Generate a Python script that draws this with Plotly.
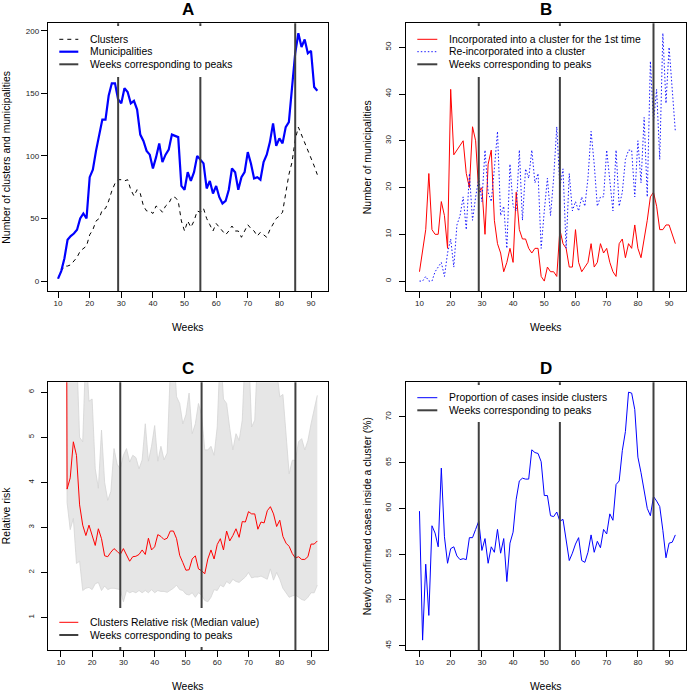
import plotly.graph_objects as go

W, H = 688, 691
FONT = "Liberation Sans, Arial, Helvetica, sans-serif"
PEAK_COLOR = "#404040"

# ---------------- data ----------------
weeks = list(range(10, 93))
peak_weeks = [29, 55, 85]
x_ticks = [10, 20, 30, 40, 50, 60, 70, 80, 90]

# Panel A
clusters = [2, 8, 12, 12, 13, 16, 19, 24, 26, 28,
            37, 41, 48, 50, 57, 58, 64, 72, 78, 81,
            81, 80, 81, 73, 68, 73, 70, 60, 56, 56,
            54, 60, 58, 55, 60, 62, 67, 67, 64, 48,
            40, 48, 43, 48, 56, 55, 58, 50, 45, 40,
            46, 43, 40, 37, 40, 44, 40, 40, 35, 40,
            45, 42, 40, 36, 39, 37, 35, 41, 45, 50,
            52, 55, 70, 85, 95, 113, 123, 117, 111, 105,
            98, 92, 85]
municipalities = [2, 8, 18, 33, 36, 38, 41, 50, 54, 50,
                  83, 89, 104, 117, 129, 129, 148, 158, 158, 145,
                  142, 154, 151, 142, 144, 137, 117, 112, 104, 101,
                  90, 99, 110, 95, 101, 105, 117, 116, 115, 76,
                  73, 87, 80, 87, 100, 97, 94, 74, 80, 70,
                  76, 67, 62, 64, 73, 90, 87, 73, 83, 87,
                  103, 94, 82, 83, 81, 95, 101, 111, 126, 108,
                  114, 110, 123, 127, 155, 182, 198, 187, 193, 182,
                  184, 155, 152]
a_yticks = [0, 50, 100, 150, 200]

# Panel B
first_time = [2, 7, 11, 23, 11, 10, 10, 17, 14, 7,
              41, 27, 28, 29, 30, 23, 20, 33, 30, 19,
              20, 10, 25, 28, 13, 8, 6, 2, 4, 7,
              4, 19, 11, 9, 9, 7, 6, 7, 7, 1,
              0, 3, 2, 2, 1, 11, 8, 7, 3, 3,
              11, 4, 2, 3, 4, 8, 3, 4, 8, 6,
              7, 4, 2, 1, 8, 9, 5, 8, 7, 12,
              7, 5, 9, 13, 18, 19, 16, 11, 11, 12,
              12, 10, 8]
reincorporated = [0, 0, 1, 0, 0, 2, 3, 4, 1, 6,
                  9, 3, 12, 14, 18, 11, 23, 13, 18, 22,
                  17, 28, 19, 17, 24, 32, 14, 16, 7, 25,
                  16, 15, 28, 13, 24, 22, 28, 21, 23, 7,
                  15, 22, 14, 22, 33, 20, 24, 7, 23, 15,
                  17, 15, 18, 16, 22, 32, 25, 16, 18, 18,
                  28, 21, 15, 28, 16, 19, 26, 28, 28, 18,
                  30, 21, 35, 18, 47, 34, 41, 26, 53, 38,
                  50, 41, 32]
b_yticks = [0, 10, 20, 30, 40, 50]

# Panel C
rr_median = [None, 30, 3.85, 4.1, 4.9, 4.6, 3.5, 3.05, 2.82, 3.05,
             2.85, 2.6, 2.97, 2.75, 2.37, 2.35, 2.45, 2.53, 2.47, 2.4,
             2.53, 2.4, 2.25, 2.35, 2.36, 2.4, 2.5, 2.4, 2.76, 2.5,
             2.57, 2.84, 2.8, 2.73, 2.76, 2.92, 2.92, 2.75, 2.38, 2.22,
             2.05, 2.06, 2.3, 2.37, 2.08, 2.04, 1.97, 2.3, 2.5, 2.3,
             2.62, 2.75, 2.5, 2.92, 2.7, 2.82, 2.97, 2.78, 3.13, 3.12,
             3.35, 3.3, 3.3, 2.96, 3.12, 3.1, 3.37, 3.46, 3.3, 3.02,
             3.16, 2.8, 2.65, 2.58, 2.42, 2.32, 2.35, 2.29, 2.29, 2.35,
             2.63, 2.63, 2.7]
rr_lower = [None, 20, 3.55, 2.95, 3.2, 2.2, 2.25, 1.6, 1.65, 1.67,
            1.62, 1.75, 1.78, 1.6, 1.7, 1.62, 1.65, 1.65, 1.63, 1.62,
            1.35, 1.6, 1.55, 1.58, 1.55, 1.6, 1.55, 1.6, 1.55, 1.62,
            1.55, 1.6, 1.58, 1.58, 1.56, 1.6, 1.65, 1.72, 1.62, 1.6,
            1.52, 1.5, 1.55, 1.45, 1.55, 1.5, 1.38, 1.35, 1.45, 1.62,
            1.6, 1.72, 1.68, 1.8, 1.75, 1.85, 1.8, 1.78, 1.85, 1.9,
            2.0, 1.88, 1.9, 1.9, 1.92, 1.88, 1.85, 2.08, 1.83, 2.0,
            1.85, 1.65, 1.55, 1.45, 1.48, 1.5, 1.45, 1.4, 1.38, 1.45,
            1.55, 1.55, 1.72]
rr_upper = [None, 40, 7.0, 7.0, 7.0, 7.0, 5.0, 4.9, 7.0, 5.8,
            5.85, 4.3, 3.87, 5.16, 4.0, 3.6, 3.8, 4.75, 4.4, 4.3,
            4.6, 4.75, 4.45, 4.6, 4.55, 4.3, 4.5, 5.3, 4.47, 4.8,
            5.26, 4.47, 4.8, 4.5, 4.65, 6.5, 7.0, 5.9, 5.75, 5.3,
            5.5, 5.98, 5.08, 5.3, 5.75, 5.5, 4.72, 4.72, 4.8, 4.6,
            5.23, 7.0, 5.85, 5.75, 5.2, 4.72, 5.08, 4.93, 5.38, 7.0,
            7.0, 5.23, 5.38, 7.0, 7.0, 7.0, 7.0, 7.0, 7.0, 6.5,
            5.9, 5.95, 5.0, 4.19, 4.49, 4.49, 4.9, 4.97, 4.72, 4.93,
            5.3, 5.6, 5.93]
c_yticks = [1, 2, 3, 4, 5, 6]

# Panel D
prop_inside = [59.7, 45.6, 53.9, 48.3, 58.1, 57.3, 55.8, 64.4, 56.9, 54.0,
               55.6, 55.8, 54.8, 54.4, 54.5, 54.4, 56.8, 56.8, 57.7, 58.6,
               55.4, 56.7, 54.0, 55.8, 55.2, 57.7, 55.1, 56.7, 52.0, 56.2,
               57.4, 61.0, 63.0, 63.3, 63.2, 63.2, 66.4, 66.1, 66.0, 65.1,
               61.4, 61.4, 59.2, 59.1, 59.6, 58.6, 58.8, 56.3, 54.3, 55.1,
               56.1, 56.8, 54.3, 54.1, 55.2, 57.1, 55.2, 56.4, 55.7, 57.7,
               57.2, 59.4, 58.7, 62.6, 63.0, 66.3, 68.4, 72.7, 72.6, 70.8,
               65.6, 63.9, 61.7, 60.0, 59.2, 61.3, 60.8, 60.2, 57.6, 54.6,
               56.2, 56.3, 57.1]
d_yticks = [45, 50, 55, 60, 65, 70]

# ---------------- helpers ----------------
def fx(p):
    return p / W


def fy(p):
    return 1 - p / H


# panel boxes in pixels: left, right, top, bottom
boxes = {
    "A": (47.7, 327.7, 23.3, 291.0),
    "B": (406.0, 685.7, 23.3, 291.0),
    "C": (47.7, 327.7, 382.3, 650.0),
    "D": (406.0, 685.7, 382.3, 650.0),
}

fig = go.Figure()

# Panel A
fig.add_trace(go.Scatter(x=weeks, y=clusters, mode="lines", xaxis="x", yaxis="y",
                         line=dict(color="black", width=1, dash="4px,4px"), showlegend=False))
fig.add_trace(go.Scatter(x=weeks, y=municipalities, mode="lines", xaxis="x", yaxis="y",
                         line=dict(color="#0000FF", width=2.2), showlegend=False))
# Panel B
fig.add_trace(go.Scatter(x=weeks, y=first_time, mode="lines", xaxis="x2", yaxis="y2",
                         line=dict(color="#FF0000", width=1), showlegend=False))
fig.add_trace(go.Scatter(x=weeks, y=reincorporated, mode="lines", xaxis="x2", yaxis="y2",
                         line=dict(color="#0000FF", width=0.9, dash="1.5px,2px"), showlegend=False))
# Panel C
c_weeks = [w for w, v in zip(weeks, rr_median) if v is not None]
c_low = [v for v in rr_lower if v is not None]
c_up = [v for v in rr_upper if v is not None]
c_med = [v for v in rr_median if v is not None]
fig.add_trace(go.Scatter(x=c_weeks, y=c_low, mode="lines", xaxis="x3", yaxis="y3",
                         line=dict(color="#D4D4D4", width=0.8), showlegend=False))
fig.add_trace(go.Scatter(x=c_weeks, y=c_up, mode="lines", xaxis="x3", yaxis="y3",
                         fill="tonexty", fillcolor="#E6E6E6",
                         line=dict(color="#D4D4D4", width=0.8), showlegend=False))
fig.add_trace(go.Scatter(x=c_weeks, y=c_med, mode="lines", xaxis="x3", yaxis="y3",
                         line=dict(color="#FF0000", width=1), showlegend=False))
# Panel D
fig.add_trace(go.Scatter(x=weeks, y=prop_inside, mode="lines", xaxis="x4", yaxis="y4",
                         line=dict(color="#0000FF", width=1), showlegend=False))

shapes = []
# peak lines
for xr, yr in [("x", "y"), ("x2", "y2"), ("x3", "y3"), ("x4", "y4")]:
    for pw in peak_weeks:
        shapes.append(dict(type="line", xref=xr, yref=yr + " domain", x0=pw, x1=pw, y0=0, y1=1,
                           line=dict(color=PEAK_COLOR, width=2), layer="above"))

annotations = []

# legends (drawn manually to mimic R legend)
legends = [
    ((50, 237, 26, 77), (59.3, 78.3), 88.3, [
        (39.3, "black", 1, "4px,4px", "Clusters"),
        (51.7, "#0000FF", 2.2, "solid", "Municipalities"),
        (64.3, PEAK_COLOR, 2, "solid", "Weeks corresponding to peaks")]),
    ((409, 645, 26, 77), (417.3, 437.3), 446.7, [
        (39.3, "#FF0000", 1, "solid", "Incorporated into a cluster for the 1st time"),
        (51.7, "#0000FF", 0.9, "1.5px,2px", "Re-incorporated into a cluster"),
        (64.3, PEAK_COLOR, 2, "solid", "Weeks corresponding to peaks")]),
    ((50, 262, 608, 647), (59.3, 78.3), 88.3, [
        (622.3, "#FF0000", 1, "solid", "Clusters Relative risk (Median value)"),
        (635.0, PEAK_COLOR, 2, "solid", "Weeks corresponding to peaks")]),
    ((409, 612, 385, 422), (417.3, 437.3), 446.7, [
        (397.7, "#0000FF", 1, "solid", "Proportion of cases inside clusters"),
        (410.3, PEAK_COLOR, 2, "solid", "Weeks corresponding to peaks")]),
]
for (rx0, rx1, ry0, ry1), (sx0, sx1), tx, rows in legends:
    shapes.append(dict(type="rect", xref="paper", yref="paper", x0=fx(rx0), x1=fx(rx1),
                       y0=fy(ry1), y1=fy(ry0), fillcolor="white", line=dict(width=0), layer="above"))
    for ry, col, lw, dash, txt in rows:
        shapes.append(dict(type="line", xref="paper", yref="paper", x0=fx(sx0), x1=fx(sx1),
                           y0=fy(ry), y1=fy(ry), line=dict(color=col, width=lw, dash=dash), layer="above"))
        annotations.append(dict(text=txt, xref="paper", yref="paper", x=fx(tx), y=fy(ry),
                                xanchor="left", yanchor="middle", showarrow=False,
                                font=dict(family=FONT, size=10.4, color="black")))

# titles & axis labels
panel_text = {
    "A": ("Number of clusters and municipalities", 6.5),
    "B": ("Number of municipalities", 367.0),
    "C": ("Relative risk", 6.0),
    "D": ("Newly confirmed cases inside a cluster (%)", 367.0),
}
for key, (l, r, t, b) in boxes.items():
    cx = (l + r) / 2
    cy = (t + b) / 2
    annotations.append(dict(text="<b>%s</b>" % key, xref="paper", yref="paper", x=fx(cx), y=fy(t - 13.5),
                            xanchor="center", yanchor="middle", showarrow=False,
                            font=dict(family=FONT, size=17, color="black")))
    annotations.append(dict(text="Weeks", xref="paper", yref="paper", x=fx(cx), y=fy(b + 36.5),
                            xanchor="center", yanchor="middle", showarrow=False,
                            font=dict(family=FONT, size=10.4, color="black")))
    ytxt, yx = panel_text[key]
    annotations.append(dict(text=ytxt, xref="paper", yref="paper", x=fx(yx), y=fy(cy),
                            xanchor="center", yanchor="middle", showarrow=False, textangle=-90,
                            font=dict(family=FONT, size=10.4, color="black")))


def axis_common(standoff=0):
    return dict(ticks="outside", ticklen=6, tickwidth=1, tickcolor="black",
                showline=True, linecolor="black", linewidth=1, mirror=True,
                showgrid=False, zeroline=False, ticklabelstandoff=standoff,
                tickfont=dict(family=FONT, size=8, color="#222"))


def xdom(k):
    l, r, t, b = boxes[k]
    return [fx(l), fx(r)]


def ydom(k):
    l, r, t, b = boxes[k]
    return [fy(b), fy(t)]


layout = dict(width=W, height=H, autosize=False, margin=dict(l=0, r=0, t=0, b=0),
              plot_bgcolor="white", paper_bgcolor="white", showlegend=False,
              shapes=shapes, annotations=annotations)

layout["xaxis"] = dict(domain=xdom("A"), range=[6.72, 95.28], anchor="y", tickvals=x_ticks, **axis_common(-2))
layout["yaxis"] = dict(domain=ydom("A"), range=[-7.92, 205.92], anchor="x", tickvals=a_yticks, **axis_common(0))
layout["xaxis2"] = dict(domain=xdom("B"), range=[5.68, 95.32], anchor="y2", tickvals=x_ticks, **axis_common(-2))
layout["yaxis2"] = dict(domain=ydom("B"), range=[-2.12, 55.12], anchor="x2", tickvals=b_yticks,
                        tickangle=-90, **axis_common(5))
layout["xaxis3"] = dict(domain=xdom("C"), range=[5.8, 95.32], anchor="y3", tickvals=x_ticks, **axis_common(-2))
layout["yaxis3"] = dict(domain=ydom("C"), range=[0.28, 6.22], anchor="x3", tickvals=c_yticks,
                        tickangle=-90, **axis_common(4))
layout["xaxis4"] = dict(domain=xdom("D"), range=[5.68, 95.32], anchor="y4", tickvals=x_ticks, **axis_common(-2))
layout["yaxis4"] = dict(domain=ydom("D"), range=[44.52, 73.78], anchor="x4", tickvals=d_yticks,
                        tickangle=-90, **axis_common(5))

fig.update_layout(**layout)
fig.write_html("out.html", config={"displayModeBar": False},
               post_script="document.body.style.margin='0';document.body.style.overflow='hidden';")
